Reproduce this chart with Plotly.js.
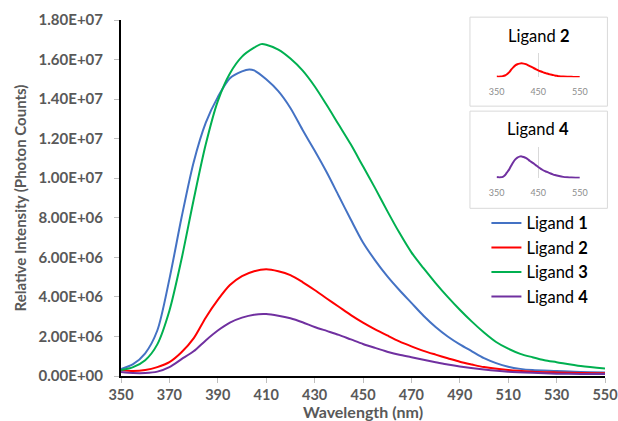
<!DOCTYPE html>
<html>
<head>
<meta charset="utf-8">
<script src="https://cdn.plot.ly/plotly-3.0.1.min.js"></script>
<style>
html,body{margin:0;padding:0;background:#fff;}
#chart{width:618px;height:421px;}
</style>
</head>
<body>
<div id="chart"></div>
<script>
// Wavelengths (nm) and intensities (x1e6 photon counts)
const wl1 = [350,355,360,365,370,375,380,385,390,395,400,403,405,410,415,420,425,430,435,440,445,450,455,460,465,470,475,480,485,490,495,500,505,510,515,520,530,540,550];
const ligand1 = [0.35,0.6,1.15,2.3,4.9,8.0,10.8,12.8,14.1,15.05,15.4,15.5,15.45,15.0,14.4,13.55,12.45,11.4,10.3,9.1,7.9,6.75,5.85,5.05,4.35,3.7,3.05,2.48,2.0,1.6,1.25,0.9,0.65,0.47,0.36,0.3,0.25,0.2,0.18];

const wl2 = [350,355,360,365,370,375,380,385,390,395,400,405,410,415,420,425,430,435,440,445,450,455,460,465,470,475,480,485,490,495,500,510,520,530,540,550];
const ligand2 = [0.3,0.25,0.3,0.45,0.7,1.2,1.9,2.95,3.85,4.6,5.05,5.3,5.4,5.3,5.1,4.75,4.35,3.92,3.5,3.08,2.7,2.36,2.05,1.75,1.5,1.27,1.08,0.9,0.72,0.58,0.45,0.3,0.22,0.18,0.15,0.14];

const wl3 = [350,355,360,365,370,375,380,385,390,395,400,405,408,410,415,420,425,430,435,440,445,450,455,460,465,470,475,480,485,490,495,500,505,510,515,520,525,530,540,550];
const ligand3 = [0.3,0.45,0.8,1.6,3.3,5.9,8.9,11.7,13.9,15.3,16.15,16.6,16.78,16.75,16.5,16.05,15.45,14.65,13.7,12.7,11.7,10.6,9.5,8.35,7.25,6.25,5.45,4.7,4.0,3.35,2.75,2.2,1.72,1.38,1.12,0.95,0.8,0.7,0.5,0.38];

const wl4 = [350,355,360,365,370,375,380,385,390,395,400,405,410,415,420,425,430,435,440,445,450,455,460,465,470,475,480,485,490,500,510,520,530,540,550];
const ligand4 = [0.2,0.15,0.15,0.22,0.45,0.85,1.25,1.8,2.3,2.7,2.95,3.1,3.13,3.05,2.92,2.72,2.48,2.28,2.08,1.85,1.62,1.42,1.23,1.07,0.95,0.82,0.7,0.58,0.48,0.33,0.22,0.16,0.12,0.1,0.1];

const names = ['Ligand <b>1</b>','Ligand <b>2</b>','Ligand <b>3</b>','Ligand <b>4</b>'];
const colors = ['#4472C4','#FF0000','#00B050','#7030A0'];

const xTicks = [350,370,390,410,430,450,470,490,510,530,550];
const yTickVals = [0,2e6,4e6,6e6,8e6,1e7,1.2e7,1.4e7,1.6e7,1.8e7];
const yTickText = ['0.00E+00','2.00E+06','4.00E+06','6.00E+06','8.00E+06','1.00E+07','1.20E+07','1.40E+07','1.60E+07','1.80E+07'];
const insetTicks = [350,450,550];

const scale = v => v.map(d => d*1e6);
const wls = [wl1,wl2,wl3,wl4];
const vals = [ligand1,ligand2,ligand3,ligand4];

const traces = [];
for (let i=0;i<4;i++){
  traces.push({x:wls[i], y:scale(vals[i]), type:'scatter', mode:'lines', name:names[i],
    line:{color:colors[i], width:2, shape:'spline', smoothing:0.8}, legendgroup:'g'+i, xaxis:'x', yaxis:'y'});
}
// insets
traces.push({x:wl2, y:scale(ligand2), type:'scatter', mode:'lines', showlegend:false,
  line:{color:colors[1], width:2, shape:'spline', smoothing:0.8}, xaxis:'x2', yaxis:'y2', hoverinfo:'skip'});
traces.push({x:wl4, y:scale(ligand4), type:'scatter', mode:'lines', showlegend:false,
  line:{color:colors[3], width:2, shape:'spline', smoothing:0.8}, xaxis:'x3', yaxis:'y3', hoverinfo:'skip'});

const gray = '#595959';
const insetAxisX = (anchor, dom) => ({domain:dom, anchor:anchor, range:[350,550], tickvals:insetTicks,
  showgrid:true, gridcolor:'#d9d9d9', gridwidth:1, zeroline:false, showline:false, ticks:'outside', ticklen:6, tickcolor:'rgba(0,0,0,0)',
  tickfont:{family:'Lato, sans-serif', size:9, color:'#8c8c8c'}, fixedrange:true});
const insetAxisY = (anchor, dom, top) => ({domain:dom, anchor:anchor, range:[0,top], tickvals:[top],
  showticklabels:false, showgrid:true, gridcolor:'#d9d9d9', gridwidth:1, zeroline:false, showline:false, ticks:'', fixedrange:true});

const layout = {
  width:618, height:421,
  margin:{l:121, r:13, t:20, b:45},
  paper_bgcolor:'#fff', plot_bgcolor:'#fff',
  font:{family:'Lato, sans-serif', color:gray},
  showlegend:true,
  legend:{x:0.755, y:0.478, xanchor:'left', yanchor:'top', bgcolor:'rgba(0,0,0,0)',
    font:{family:'Lato, sans-serif', size:16.5, color:'#000'}, tracegroupgap:0, traceorder:'grouped',
    itemwidth:30},
  xaxis:{range:[350,550], tickvals:xTicks, showgrid:false, zeroline:false,
    showline:true, linecolor:'#000', linewidth:2, ticks:'outside', ticklen:5, tickcolor:'#bfbfbf',
    ticklabeloverflow:'allow',
    tickfont:{family:'Lato, sans-serif', size:14.5, color:gray, weight:'bold'},
    title:{text:'<b>Wavelength (nm)</b>', font:{family:'Lato, sans-serif', size:16, color:gray}, standoff:0}},
  yaxis:{range:[0,1.8e7], tickvals:yTickVals, ticktext:yTickText, showgrid:false, zeroline:false,
    showline:true, linecolor:'#000', linewidth:2, ticks:'outside', ticklen:5, tickcolor:'#bfbfbf',
    ticklabelstandoff:8, ticklabeloverflow:'allow',
    tickfont:{family:'Lato, sans-serif', size:15, color:gray, weight:'bold'},
    title:{text:'<b>Relative Intensity (Photon Counts)</b>', font:{family:'Lato, sans-serif', size:15, color:gray}, standoff:8}},
  xaxis2: insetAxisX('y2',[0.776,0.948]),
  yaxis2: insetAxisY('x2',[0.839,0.908],9.5e6),
  xaxis3: insetAxisX('y3',[0.776,0.948]),
  yaxis3: insetAxisY('x3',[0.555,0.644],4.5e6),
  shapes:[
    {type:'rect', xref:'paper', yref:'paper', x0:0.721, x1:1.005, y0:0.758, y1:1.008, line:{color:'#d9d9d9', width:1}, fillcolor:'rgba(0,0,0,0)', layer:'below'},
    {type:'rect', xref:'paper', yref:'paper', x0:0.721, x1:1.005, y0:0.471, y1:0.744, line:{color:'#d9d9d9', width:1}, fillcolor:'rgba(0,0,0,0)', layer:'below'}
  ],
  annotations:[
    {text:'Ligand <b>2</b>', xref:'paper', yref:'paper', x:0.862, y:0.955, xanchor:'center', yanchor:'middle', showarrow:false, font:{family:'Lato, sans-serif', size:16.5, color:'#000'}},
    {text:'Ligand <b>4</b>', xref:'paper', yref:'paper', x:0.862, y:0.694, xanchor:'center', yanchor:'middle', showarrow:false, font:{family:'Lato, sans-serif', size:16.5, color:'#000'}}
  ]
};

Plotly.newPlot('chart', traces, layout, {staticPlot:true, displayModeBar:false});
</script>
</body>
</html>
